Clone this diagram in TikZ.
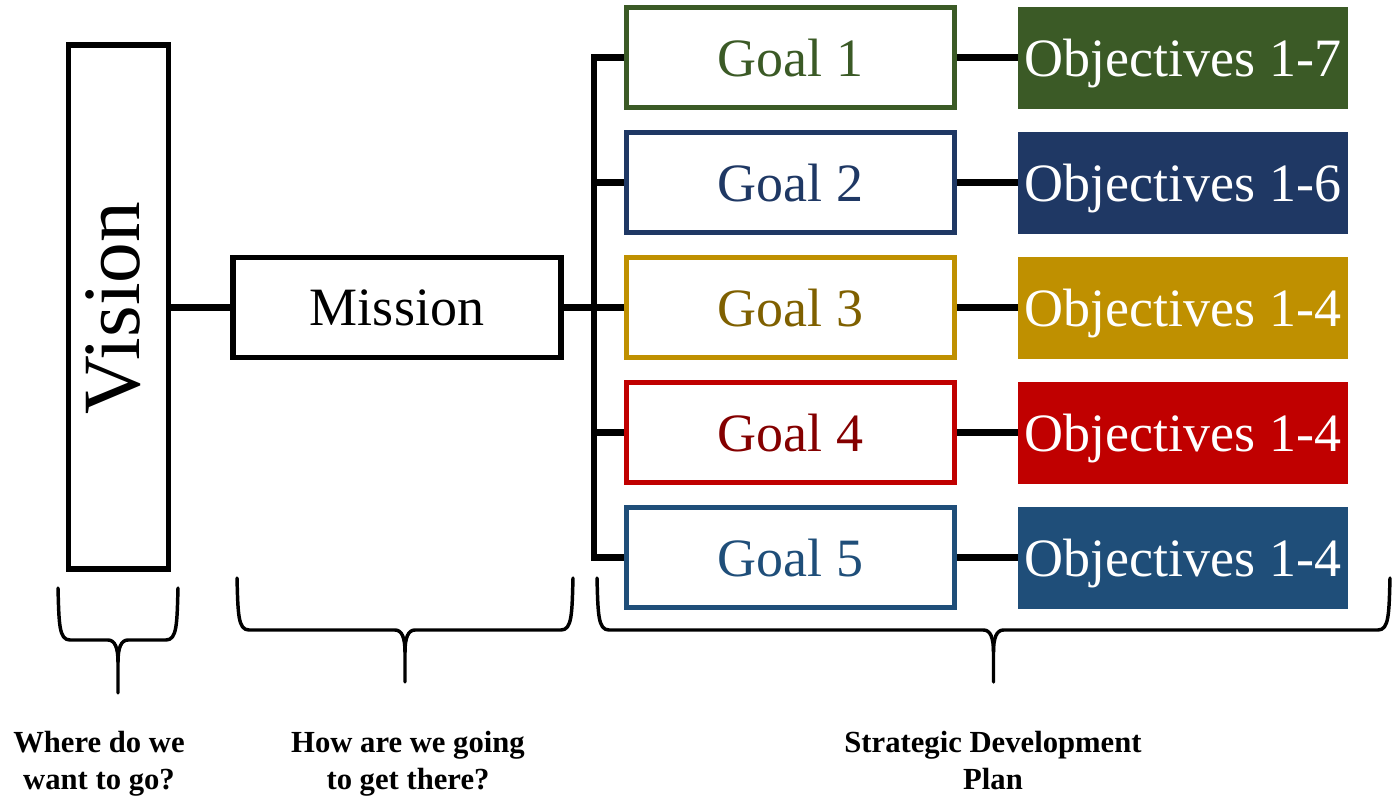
\documentclass[tikz,border=0pt]{standalone}
\usepackage{fontspec}
\setmainfont{Liberation Serif}
\usetikzlibrary{backgrounds}
\definecolor{gA}{HTML}{3B5A26}
\definecolor{gB}{HTML}{1F3864}
\definecolor{gC}{HTML}{BF9000}
\definecolor{gCt}{HTML}{7F6000}
\definecolor{gD}{HTML}{C00000}
\definecolor{gDt}{HTML}{840000}
\definecolor{gE}{HTML}{1F4E79}
\newcommand\bracedraw[5]{% x1 x2 ytop yh ytip
  \draw[brace] (#1,#3) .. controls (#1+1,#4-16) and (#1+1,#4) .. (#1+12,#4)
    -- ({(#1+#2)/2-10},#4) .. controls ({(#1+#2)/2-3},#4) and ({(#1+#2)/2},#4+8) .. ({(#1+#2)/2},#4+22)
    -- ({(#1+#2)/2},#5);
  \draw[brace] (#2,#3) .. controls (#2-1,#4-16) and (#2-1,#4) .. (#2-12,#4)
    -- ({(#1+#2)/2+10},#4) .. controls ({(#1+#2)/2+3},#4) and ({(#1+#2)/2},#4+8) .. ({(#1+#2)/2},#4+22);
}
\begin{document}
\begin{tikzpicture}[x=0.75pt,y=-0.75pt,
  box/.style={draw, line width=3.75pt, minimum width=246pt, minimum height=75pt,
    inner sep=0pt, font=\fontsize{40.5}{48}\selectfont, text depth=0pt},
  goalbox/.style={box, draw=#1},
  objbox/.style={fill=#1, minimum width=247.5pt, minimum height=76.5pt, inner sep=0pt,
    text=white, font=\fontsize{40.5}{48}\selectfont, text depth=0pt},
  conn/.style={line width=4.8pt},
  brace/.style={line width=2.6pt, line cap=round, line join=round},
  lbl/.style={font=\fontsize{23}{27.75}\selectfont\bfseries, align=center, inner sep=0pt, anchor=north}]

\useasboundingbox (0,0) rectangle (1400,803);

\node[draw, line width=4.3pt, minimum width=75pt, minimum height=393pt, inner sep=0pt] (vision) at (118.5,307) {};
\node[rotate=90, font=\fontsize{61}{70}\selectfont, inner sep=0pt] (visiontext) at (113.5,308) {Vision};
\node[box, line width=4.3pt] (mission) at (397,307.5) {Mission};

\node[goalbox=gA, text=gA]  (g1) at (790.5,57.5)  {Goal 1};
\node[goalbox=gB, text=gB]  (g2) at (790.5,182.5) {Goal 2};
\node[goalbox=gC, text=gCt] (g3) at (790.5,307.5) {Goal 3};
\node[goalbox=gD, text=gDt] (g4) at (790.5,432.5) {Goal 4};
\node[goalbox=gE, text=gE]  (g5) at (790.5,557.5) {Goal 5};

\node[objbox=gA] (o1) at (1183,57.5)  {Objectives 1-7};
\node[objbox=gB] (o2) at (1183,182.5) {Objectives 1-6};
\node[objbox=gC] (o3) at (1183,307.5) {Objectives 1-4};
\node[objbox=gD] (o4) at (1183,432.5) {Objectives 1-4};
\node[objbox=gE] (o5) at (1183,557.5) {Objectives 1-4};

\coordinate (trunk) at (594,307.5);

\begin{scope}[on background layer]
  \draw[conn] (mission.west) -- (mission.west -| vision.east);
  \draw[conn] (g1.west) -| (trunk) |- (g5.west);
  \draw[conn] (mission.east) -- (trunk);
  \draw[conn] (g2.west) -- (g2.west -| trunk);
  \draw[conn] (g3.west) -- (trunk);
  \draw[conn] (g4.west) -- (g4.west -| trunk);
  \draw[conn] (g1.east) -- (o1.west);
  \draw[conn] (g2.east) -- (o2.west);
  \draw[conn] (g3.east) -- (o3.west);
  \draw[conn] (g4.east) -- (o4.west);
  \draw[conn] (g5.east) -- (o5.west);
\end{scope}

\bracedraw{58}{178}{588}{640}{693}
\bracedraw{237}{573}{578}{630}{682}
\bracedraw{597}{1390}{578}{630}{682}

\node[lbl] (q1) at (99,731)  {Where do we\\want to go?};
\node[lbl] (q2) at (408,731) {How are we going\\to get there?};
\node[lbl] (q3) at (993,731) {Strategic Development\\Plan};
\end{tikzpicture}
\end{document}
